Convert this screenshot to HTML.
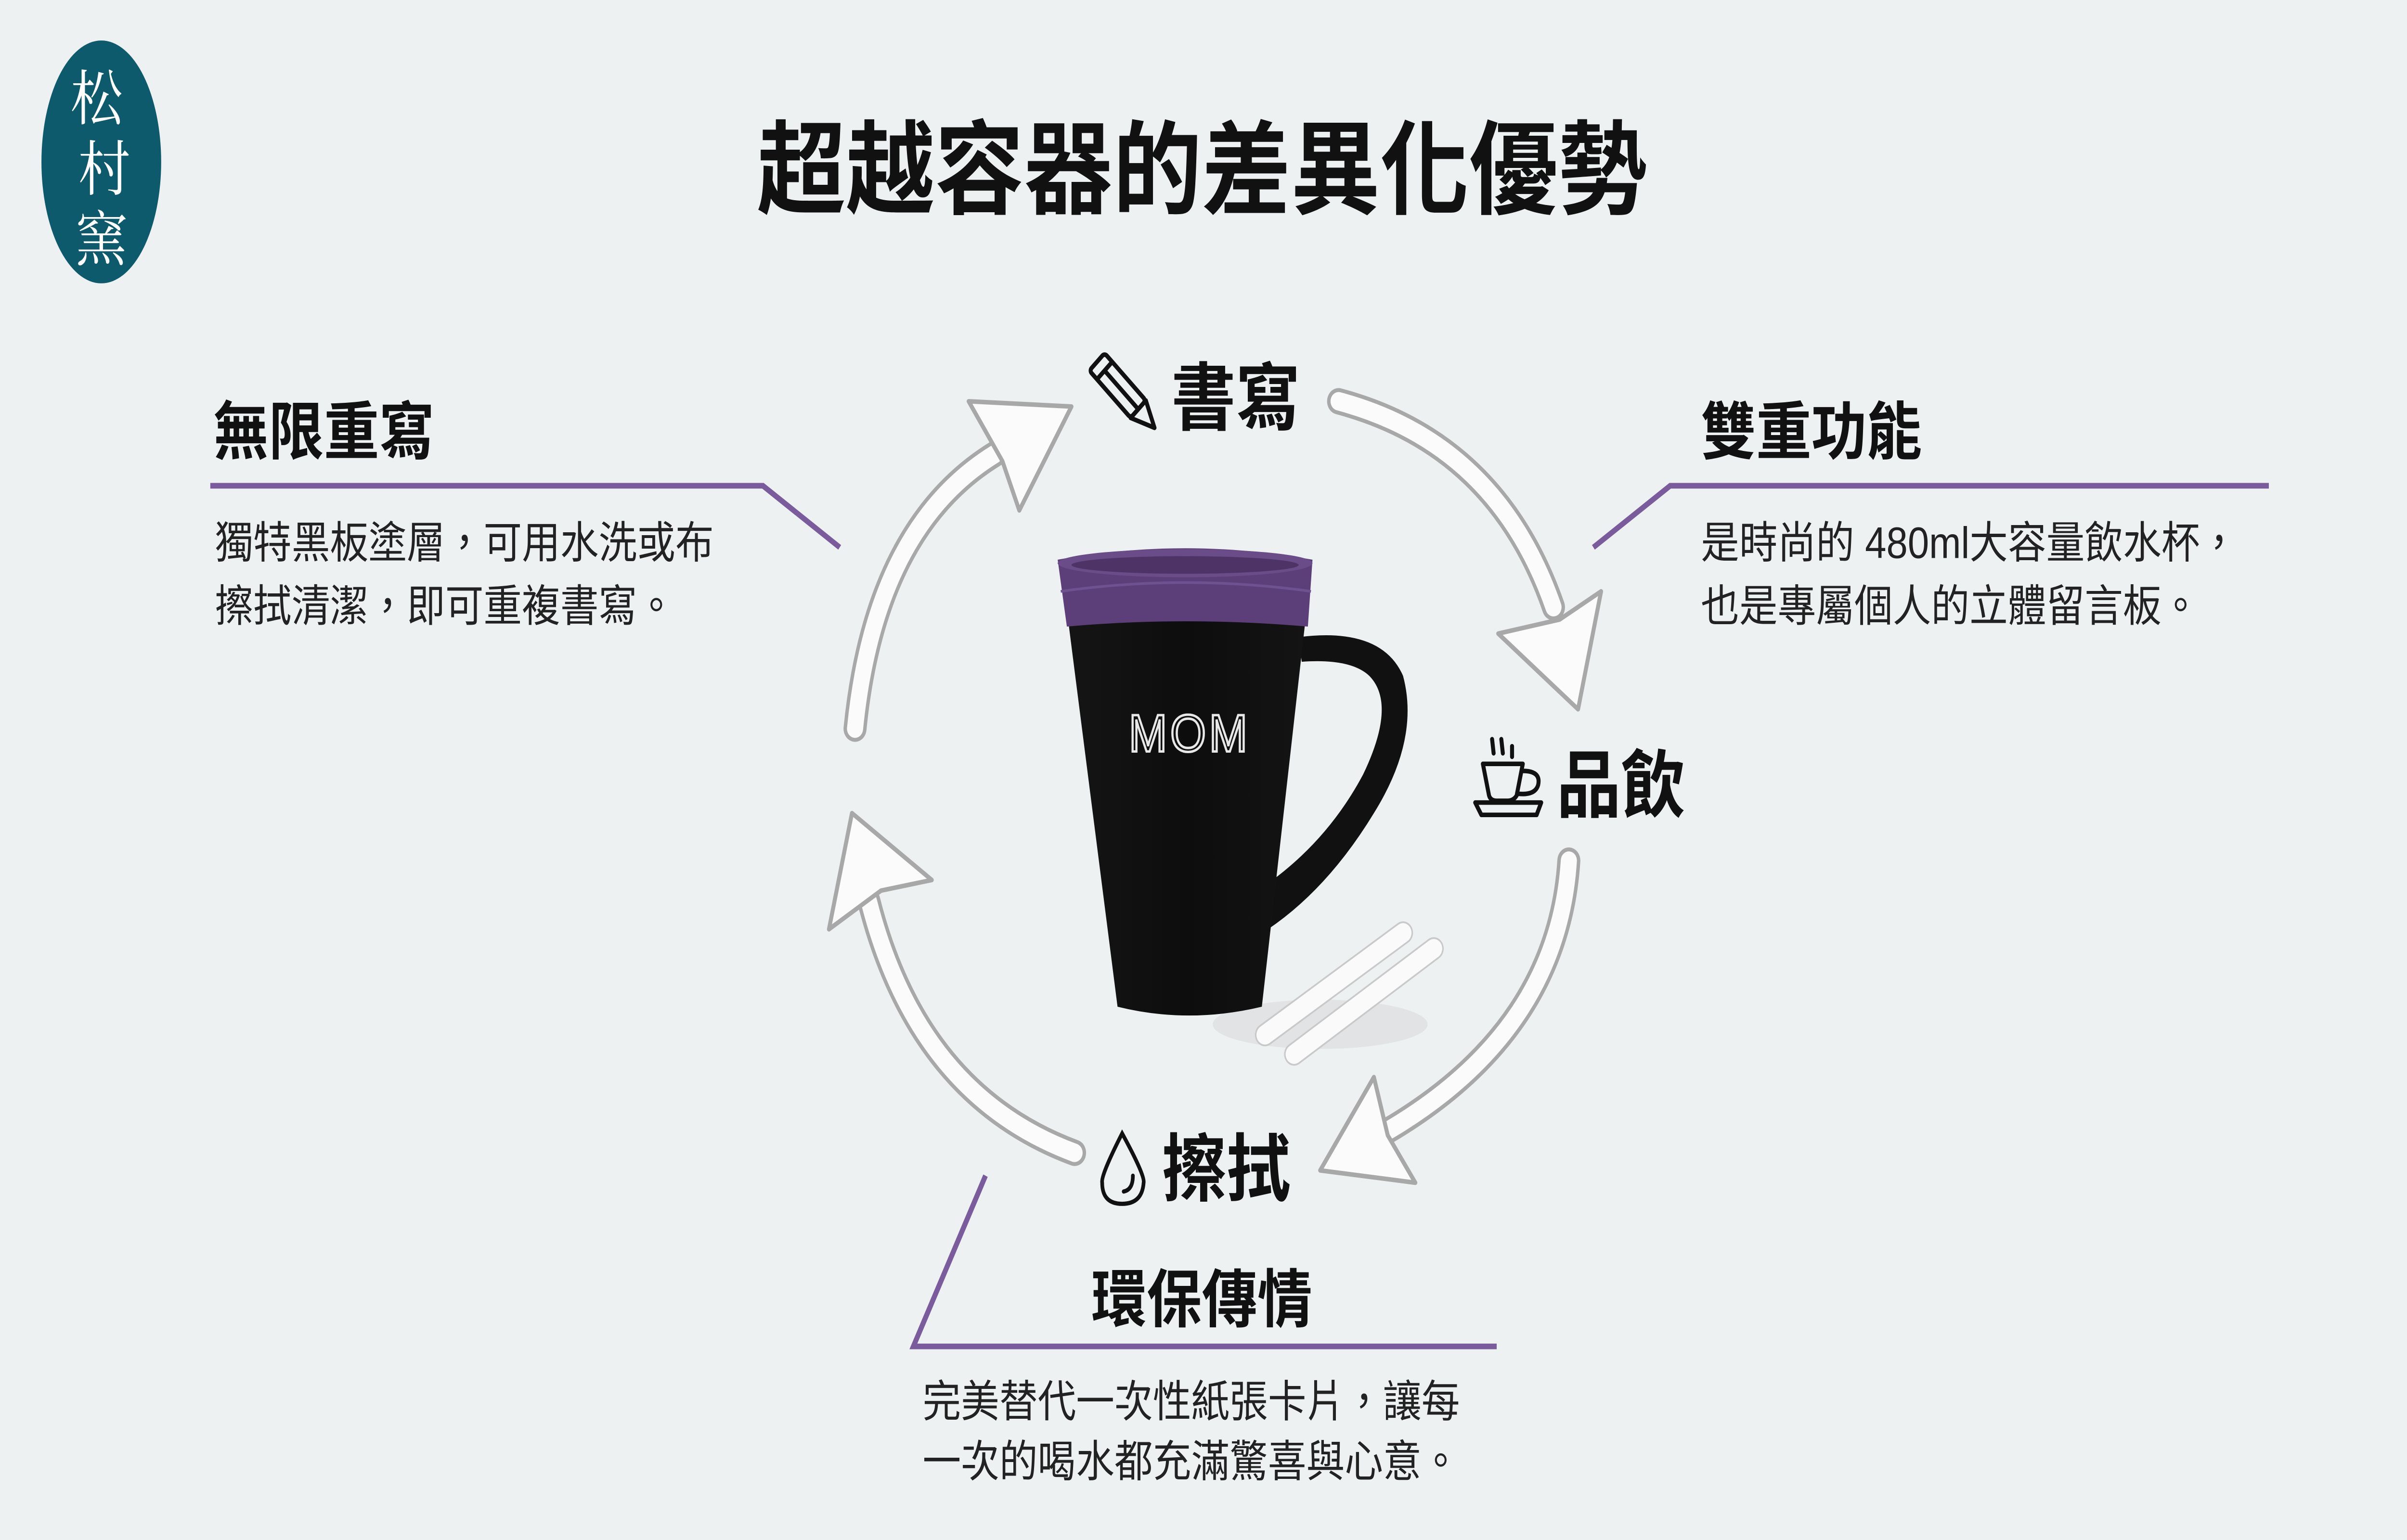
<!DOCTYPE html>
<html><head><meta charset="utf-8">
<style>
html,body{margin:0;padding:0;background:#eef1f2;width:100%;height:100%;overflow:hidden;}
svg{display:block;position:fixed;left:0;top:0;width:100vw;height:100vh;}
text{font-family:"Liberation Sans","Noto Sans CJK TC",sans-serif;}
</style></head>
<body>
<svg viewBox="0 0 1568 875" preserveAspectRatio="none" xmlns="http://www.w3.org/2000/svg">
<rect width="1568" height="875" fill="#eef1f2"/>
<!-- logo -->
<ellipse cx="66" cy="92" rx="39" ry="69" fill="#0d5a6c"/>
<g fill="#ffffff" font-size="34" text-anchor="middle">
<text x="63" y="68" style="font-family:'Noto Serif CJK SC',serif">松</text>
<text x="68" y="108" style="font-family:'Noto Serif CJK SC',serif">村</text>
<text x="66" y="148" style="font-family:'Noto Serif CJK SC',serif">窯</text>
</g>
<!-- title -->
<text x="783" y="117" font-size="58" font-weight="bold" text-anchor="middle" fill="#111">超越容器的差異化優勢</text>

<!-- left block -->
<text x="139" y="258" font-size="36" font-weight="bold" fill="#111">無限重寫</text>
<polyline points="137,276 497,276 547,311" fill="none" stroke="#7a5b9c" stroke-width="3.2"/>
<text x="140" y="317" font-size="25" fill="#222">獨特黑板塗層，可用水洗或布</text>
<text x="140" y="353" font-size="25" fill="#222">擦拭清潔，即可重複書寫。</text>

<!-- right block -->
<text x="1108" y="258" font-size="36" font-weight="bold" fill="#111">雙重功能</text>
<polyline points="1038,311 1088,276 1478,276" fill="none" stroke="#7a5b9c" stroke-width="3.2"/>
<text x="1108" y="317" font-size="25" fill="#222">是時尚的 480ml大容量飲水杯，</text>
<text x="1108" y="353" font-size="25" fill="#222">也是專屬個人的立體留言板。</text>

<!-- bottom block -->
<text x="711" y="751" font-size="36" font-weight="bold" fill="#111">環保傳情</text>
<polyline points="642,668 595,765 975,765" fill="none" stroke="#7a5b9c" stroke-width="3.2"/>
<text x="601" y="805" font-size="25" fill="#222">完美替代一次性紙張卡片，讓每</text>
<text x="601" y="839" font-size="25" fill="#222">一次的喝水都充滿驚喜與心意。</text>

<!-- arrows -->
<g stroke-linecap="round" stroke-linejoin="round">
<g fill="none">
<path d="M557,414 Q570,300 648,258" stroke="#a8a8a8" stroke-width="15"/>
<path d="M557,414 Q570,300 648,258" stroke="#fbfbfb" stroke-width="10.5"/>
<path d="M872,228 Q975,252 1012,345" stroke="#a8a8a8" stroke-width="15"/>
<path d="M872,228 Q975,252 1012,345" stroke="#fbfbfb" stroke-width="10.5"/>
<path d="M1022,489 Q1015,585 905,642" stroke="#a8a8a8" stroke-width="15"/>
<path d="M1022,489 Q1015,585 905,642" stroke="#fbfbfb" stroke-width="10.5"/>
<path d="M700,655 Q598,622 566,512" stroke="#a8a8a8" stroke-width="15"/>
<path d="M700,655 Q598,622 566,512" stroke="#fbfbfb" stroke-width="10.5"/>
</g>
<g fill="#fbfbfb" stroke="#a8a8a8" stroke-width="2.6">
<polygon points="631,228 698,231 664,290 653,262"/>
<polygon points="976,360 1028,403 1043,336 1016,352"/>
<polygon points="895,612 860,665 922,672 904,645"/>
<polygon points="540,528 555,462 607,500 574,506"/>
</g>
</g>

<!-- pencil icon -->
<g transform="translate(733,224) rotate(-45)" fill="none" stroke="#111" stroke-width="2.6" stroke-linejoin="round">
<rect x="-7" y="-26" width="14" height="38" rx="2"/>
<line x1="-7" y1="-19" x2="7" y2="-19"/>
<line x1="0" y1="-19" x2="0" y2="12"/>
<polygon points="-7,12 7,12 0,27"/>
</g>
<text x="763" y="241" font-size="42" font-weight="bold" fill="#111">書寫</text>

<!-- cup icon -->
<g fill="none" stroke="#111" stroke-width="2.6" stroke-linecap="round" stroke-linejoin="round">
<path d="M966,434 L992,434 L988,452 Q986,455 982,455 L975,455 Q971,455 970,452 Z"/>
<path d="M992,438 Q1004,438 1002,446 Q1000,452 989,451"/>
<path d="M961,456 L1004,456 L1001,463 L965,463 Z"/>
<line x1="972" y1="420" x2="973" y2="428"/>
<line x1="978" y1="420" x2="979" y2="428"/>
<line x1="985" y1="424" x2="985" y2="430"/>
</g>
<text x="1014" y="461" font-size="42" font-weight="bold" fill="#111">品飲</text>

<!-- drop icon -->
<g fill="none" stroke="#111" stroke-width="2.4" stroke-linecap="round">
<path d="M731,644 Q746,668 745,672 Q744,684 731,684 Q718,684 718,672 Q717,668 731,644 Z"/>
<path d="M738,668 Q738,676 732,677"/>
</g>
<text x="757" y="679" font-size="42" font-weight="bold" fill="#111">擦拭</text>

<!-- mug -->
<defs>
<linearGradient id="body" x1="0" x2="1">
<stop offset="0" stop-color="#151515"/><stop offset="0.5" stop-color="#0d0d0d"/><stop offset="1" stop-color="#141414"/>
</linearGradient>
</defs>
<ellipse cx="860" cy="582" rx="70" ry="14" fill="#d8dbdc" opacity="0.6"/>
<g stroke-linecap="round">
<line x1="824" y1="588" x2="914" y2="530" stroke="#c9c9c9" stroke-width="13"/>
<line x1="824" y1="588" x2="914" y2="530" stroke="#fafafa" stroke-width="11"/>
<line x1="843" y1="599" x2="934" y2="539" stroke="#c9c9c9" stroke-width="13"/>
<line x1="843" y1="599" x2="934" y2="539" stroke="#fafafa" stroke-width="11"/>
</g>
<path d="M846,362 Q900,356 914,384 Q925,420 895,462 Q865,505 826,528 L829,500 Q866,476 888,440 Q910,400 892,384 Q880,374 848,376 Z" fill="#111"/>
<path d="M694,340 L852,340 L822,572 Q774,582 728,572 Z" fill="url(#body)"/>
<path d="M689,318 Q772,305 855,318 L852,356 Q772,350 695,356 Z" fill="#5c3f78"/>
<ellipse cx="772" cy="320" rx="83" ry="8" fill="#6a4c88"/>
<ellipse cx="772" cy="321" rx="74" ry="5" fill="#4e3466"/>
<path d="M691,336 Q772,326 854,336" fill="none" stroke="#6d5190" stroke-width="1.5"/>
<text x="775" y="427" font-size="30" text-anchor="middle" fill="none" stroke="#e8e8e8" stroke-width="1.4" style="font-family:'Liberation Sans',sans-serif;letter-spacing:2px">MOM</text>
</svg>
</body></html>
